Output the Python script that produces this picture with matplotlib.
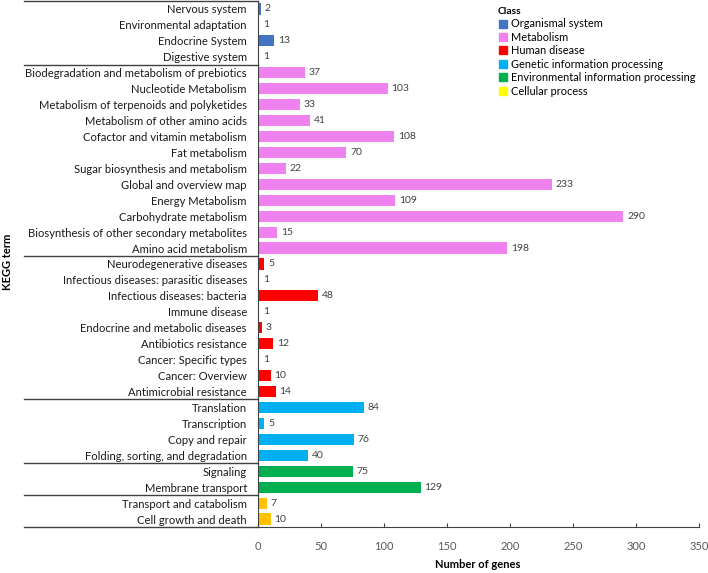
import matplotlib.pyplot as plt
from matplotlib.lines import Line2D
from matplotlib.transforms import blended_transform_factory
import numpy as np

plt.rcParams['font.family'] = ['Lato', 'DejaVu Sans']

classes = ['Organismal system', 'Metabolism', 'Human disease',
           'Genetic information processing', 'Environmental information processing',
           'Cellular process']
bar_colors = ['#4472C4', '#EE82EE', '#FF0000', '#00B0F0', '#00B050', '#FFC000']
legend_colors = ['#4472C4', '#EE82EE', '#FF0000', '#00B0F0', '#00B050', '#FFFF00']

terms = [
    ['Nervous system', 'Environmental adaptation', 'Endocrine System', 'Digestive system'],
    ['Biodegradation and metabolism of prebiotics', 'Nucleotide Metabolism',
     'Metabolism of terpenoids and polyketides', 'Metabolism of other amino acids',
     'Cofactor and vitamin metabolism', 'Fat metabolism', 'Sugar biosynthesis and metabolism',
     'Global and overview map', 'Energy Metabolism', 'Carbohydrate metabolism',
     'Biosynthesis of other secondary metabolites', 'Amino acid metabolism'],
    ['Neurodegenerative diseases', 'Infectious diseases: parasitic diseases',
     'Infectious diseases: bacteria', 'Immune disease', 'Endocrine and metabolic diseases',
     'Antibiotics resistance', 'Cancer: Specific types', 'Cancer: Overview',
     'Antimicrobial resistance'],
    ['Translation', 'Transcription', 'Copy and repair', 'Folding, sorting, and degradation'],
    ['Signaling', 'Membrane transport'],
    ['Transport and catabolism', 'Cell growth and death'],
]
genes = [
    [2, 1, 13, 1],
    [37, 103, 33, 41, 108, 70, 22, 233, 109, 290, 15, 198],
    [5, 1, 48, 1, 3, 12, 1, 10, 14],
    [84, 5, 76, 40],
    [75, 129],
    [7, 10],
]

labels = []
values = []
colors = []
bounds = [-0.5]
for i, (t, g) in enumerate(zip(terms, genes)):
    labels += t
    values += g
    colors += [bar_colors[i]] * len(t)
    bounds.append(len(labels) - 0.5)

y = np.arange(len(labels))

fig = plt.figure(figsize=(7.08, 5.73), dpi=100)
ax = fig.add_axes([258 / 708, 1 - 527 / 573, 441 / 708, 526 / 573])

ax.barh(y, values, height=0.7, color=colors)
for yi, v in zip(y, values):
    ax.text(v + 3, yi, str(v), va='center', ha='left', fontsize=7.5, color='#404040')

ax.set_ylim(len(labels) - 0.5, -0.5)
ax.set_xlim(0, 350)
ax.set_xticks(np.arange(0, 351, 50))
ax.set_yticks(y)
ax.set_yticklabels(labels, fontsize=8.1, color='#1a1a1a')
ax.tick_params(axis='y', length=0, pad=8)
ax.tick_params(axis='x', direction='in', length=3, pad=10, labelsize=8,
               labelcolor='#595959', color='#404040')

for s in ['top', 'right']:
    ax.spines[s].set_visible(False)
ax.spines['left'].set_color('#404040')
ax.spines['bottom'].set_color('#404040')

trans = blended_transform_factory(fig.transFigure, ax.transData)
for b in bounds:
    ax.plot([24 / 708, 258 / 708], [b, b], transform=trans, color='#404040',
            lw=1, clip_on=False)

fig.text(478 / 708, 1 - 565 / 573, 'Number of genes', fontsize=8, fontweight='bold',
         va='center', ha='center')
fig.text(8 / 708, 1 - 262 / 573, 'KEGG term', rotation=90, fontsize=8, fontweight='bold',
         va='center', ha='center')

handles = [Line2D([], [], marker='s', linestyle='', markersize=6,
                  markerfacecolor=c, markeredgecolor=c) for c in legend_colors]
leg = fig.legend(handles, classes, loc='upper left', bbox_to_anchor=(489 / 708, 1.003),
                 frameon=False, fontsize=7.9, title='Class', handletextpad=0.25,
                 labelspacing=0.22, handlelength=1, borderpad=0.3,
                 title_fontproperties={'weight': 'bold', 'size': 7.5})
leg._legend_box.align = 'left'

fig.savefig('out.png', dpi=100)
